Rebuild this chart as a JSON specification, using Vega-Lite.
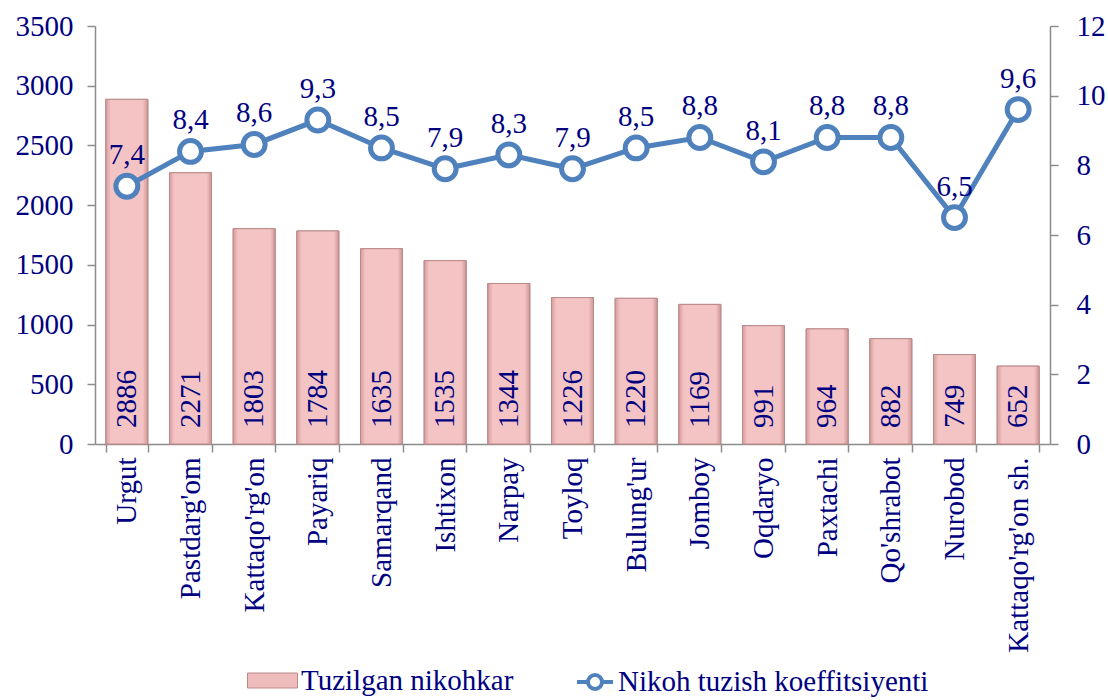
{
  "$schema": "https://vega.github.io/schema/vega-lite/v6.json",
  "width": 955,
  "height": 418,
  "autosize": {"type": "none"},
  "padding": {"left": 95, "top": 26, "right": 58, "bottom": 256},
  "background": "white",
  "config": {
    "locale": {"number": {"decimal": ",", "thousands": " ", "grouping": [3], "currency": ["", ""]}},
    "view": {"stroke": null},
    "font": "Liberation Serif",
    "axis": {
      "labelFont": "Liberation Serif",
      "labelFontSize": 29,
      "labelColor": "#000080",
      "domainColor": "#8c8c8c",
      "domainWidth": 1.5,
      "tickColor": "#8c8c8c",
      "tickWidth": 1.5,
      "tickSize": 8,
      "grid": false,
      "title": null
    },
    "legend": {
      "labelFont": "Liberation Serif",
      "labelFontSize": 29,
      "labelColor": "#000080",
      "labelLimit": 500,
      "labelOffset": 3,
      "padding": 0,
      "title": null
    }
  },
  "data": {
    "values": [
      {"t": "Urgut", "n": 2886, "k": 7.4},
      {"t": "Pastdarg'om", "n": 2271, "k": 8.4},
      {"t": "Kattaqo'rg'on", "n": 1803, "k": 8.6},
      {"t": "Payariq", "n": 1784, "k": 9.3},
      {"t": "Samarqand", "n": 1635, "k": 8.5},
      {"t": "Ishtixon", "n": 1535, "k": 7.9},
      {"t": "Narpay", "n": 1344, "k": 8.3},
      {"t": "Toyloq", "n": 1226, "k": 7.9},
      {"t": "Bulung'ur", "n": 1220, "k": 8.5},
      {"t": "Jomboy", "n": 1169, "k": 8.8},
      {"t": "Oqdaryo", "n": 991, "k": 8.1},
      {"t": "Paxtachi", "n": 964, "k": 8.8},
      {"t": "Qo'shrabot", "n": 882, "k": 8.8},
      {"t": "Nurobod", "n": 749, "k": 6.5},
      {"t": "Kattaqo'rg'on sh.", "n": 652, "k": 9.6}
    ]
  },
  "encoding": {
    "x": {
      "field": "t",
      "type": "nominal",
      "sort": null,
      "scale": {"paddingInner": 0.34, "paddingOuter": 0.17},
      "axis": {
        "labelAngle": -90,
        "labelAlign": "right",
        "labelBaseline": "middle",
        "labelPadding": 5,
        "tickBand": "extent",
        "labelLimit": 400
      }
    }
  },
  "layer": [
    {
      "encoding": {
        "y": {
          "field": "n",
          "type": "quantitative",
          "scale": {"domain": [0, 3500], "nice": false},
          "axis": {"values": [0, 500, 1000, 1500, 2000, 2500, 3000, 3500], "format": "d", "labelPadding": 14}
        }
      },
      "layer": [
        {
          "mark": {"type": "bar", "stroke": "#b98a8a", "strokeWidth": 1},
          "encoding": {
            "fill": {
              "datum": "Tuzilgan nikohkar",
              "scale": {"domain": ["Tuzilgan nikohkar"], "range": ["#efbcbc"]},
              "legend": {
                "orient": "none",
                "legendX": 152,
                "legendY": 629,
                "symbolSize": 2500,
                "symbolType": "M-1,-0.3H1V0.3H-1Z",
                "symbolStrokeColor": "#b98a8a",
                "symbolStrokeWidth": 1
              }
            }
          }
        },
        {
          "mark": {
            "type": "bar",
            "stroke": "#b98a8a",
            "strokeWidth": 1,
            "fill": {
              "gradient": "linear",
              "x1": 0, "x2": 1, "y1": 0, "y2": 0,
              "stops": [
                {"offset": 0, "color": "#d69c9c"},
                {"offset": 0.12, "color": "#f4c4c4"},
                {"offset": 0.88, "color": "#f4c4c4"},
                {"offset": 1, "color": "#cf9494"}
              ]
            }
          }
        },
        {
          "mark": {
            "type": "text",
            "angle": 270,
            "align": "left",
            "baseline": "middle",
            "dx": 16,
            "font": "Liberation Serif",
            "fontSize": 29,
            "color": "#000080"
          },
          "encoding": {
            "y": {"datum": 0, "type": "quantitative"},
            "text": {"field": "n", "type": "quantitative", "format": "d"}
          }
        }
      ]
    },
    {
      "encoding": {
        "y": {
          "field": "k",
          "type": "quantitative",
          "scale": {"domain": [0, 12], "nice": false},
          "axis": {"orient": "right", "values": [0, 2, 4, 6, 8, 10, 12], "format": "d", "labelPadding": 18}
        }
      },
      "layer": [
        {
          "mark": {"type": "line", "strokeWidth": 5},
          "encoding": {
            "stroke": {
              "datum": "Nikoh tuzish koeffitsiyenti",
              "scale": {"domain": ["Nikoh tuzish koeffitsiyenti"], "range": ["#4f81bd"]},
              "legend": {
                "orient": "none",
                "legendX": 466,
                "legendY": 629,
                "symbolSize": 2500,
                "symbolType": "M-0.44,0H0M0.56,0H1M0.56,0A0.28,0.28 0 1,1 0,0A0.28,0.28 0 1,1 0.56,0",
                "symbolStrokeWidth": 4,
                "symbolFillColor": "white"
              }
            }
          }
        },
        {
          "mark": {"type": "point", "filled": true, "fill": "white", "stroke": "#4f81bd", "strokeWidth": 5, "size": 480, "opacity": 1}
        },
        {
          "mark": {
            "type": "text",
            "align": "center",
            "baseline": "alphabetic",
            "dy": -22,
            "font": "Liberation Serif",
            "fontSize": 29,
            "color": "#000080"
          },
          "encoding": {
            "text": {"field": "k", "type": "quantitative", "format": ".1f"}
          }
        }
      ]
    }
  ],
  "resolve": {"scale": {"y": "independent"}}
}
